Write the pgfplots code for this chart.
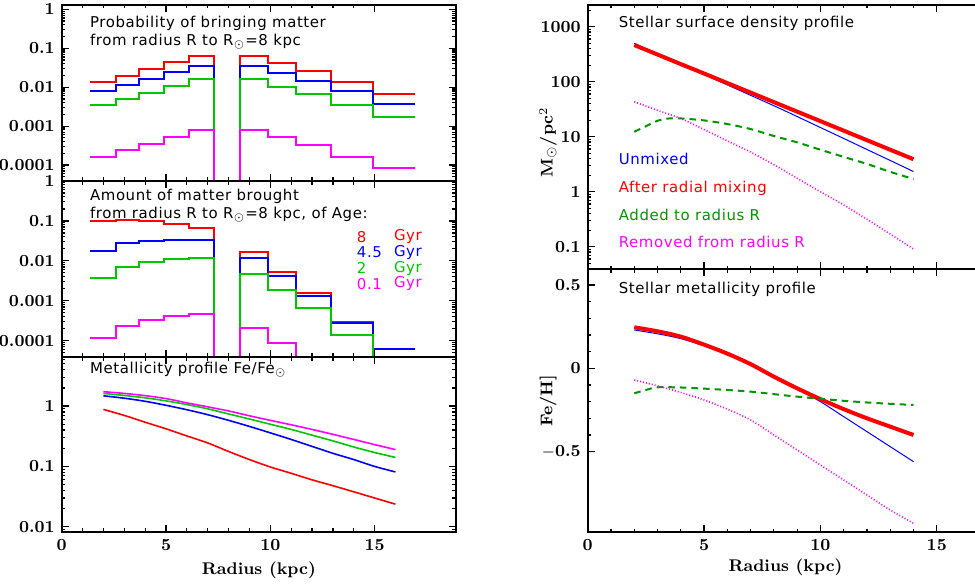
\documentclass[border=0pt]{standalone}
\usepackage{fontspec}
\usepackage{pgfplots}
\pgfplotsset{compat=1.18}
\newfontfamily\hfont[LetterSpace=4]{DejaVu Sans}
\definecolor{lred}{RGB}{255,0,0}
\definecolor{lblue}{RGB}{0,0,255}
\definecolor{lgreen}{RGB}{0,200,0}
\definecolor{dgreen}{RGB}{0,150,0}
\definecolor{mag}{RGB}{255,0,255}

\pgfplotsset{
  panel/.style={
    scale only axis, clip=true,
    axis line style={line width=1bp},
    tick align=inside,
    major tick length=3.5bp, minor tick length=1.8bp,
    every tick/.style={black, line width=0.6bp},
    tick label style={font=\fontsize{8.5}{10}\selectfont\bfseries},
    label style={font=\fontsize{8.5}{10}\selectfont\bfseries},
    xmin=0, xtick={0,5,10,15}, minor x tick num=4,
  },
  lft/.style={panel, width=197.15bp, xmax=18.9},
  rgt/.style={panel, width=197.8bp, xmax=17},
  stepline/.style={line width=1bp, line cap=rect, line join=miter},
  curve/.style={smooth, tension=0.5},
  dots/.style={mag, line width=0.8bp, dash pattern=on 0.5bp off 1bp},
  dashes/.style={dgreen, line width=1bp, dash pattern=on 3.3bp off 2.5bp},
}
\tikzset{txt/.style={anchor=west, font=\hfont\fontsize{7.5}{9}\selectfont}}

\begin{document}
\begin{tikzpicture}

% ---- top left: probability
\begin{axis}[lft, anchor=north west, at={(30.85bp,-2.35bp)},
  height=88.15bp, ymode=log, ymin=3.89e-5, ymax=1.318,
  ytick={1e-4,1e-3,1e-2,1e-1,1}, yticklabels={0.0001,0.001,0.01,0.1,1},
  minor ytick={4e-5,5e-5,6e-5,7e-5,8e-5,9e-5,2e-4,3e-4,4e-4,5e-4,6e-4,7e-4,8e-4,9e-4,
  2e-3,3e-3,4e-3,5e-3,6e-3,7e-3,8e-3,9e-3,0.02,0.03,0.04,0.05,0.06,0.07,0.08,0.09,
  0.2,0.3,0.4,0.5,0.6,0.7,0.8,0.9},
  xticklabels={}]
\addplot[stepline, lred] coordinates {
 (1.387,0.0134)(2.585,0.0134)(2.585,0.0199)(3.718,0.0199)(3.718,0.0294)(4.90,0.0294)
 (4.90,0.0436)(6.10,0.0436)(6.10,0.0648)(7.29,0.0648)(7.29,1e-6)(8.57,1e-6)
 (8.57,0.0648)(9.90,0.0648)(9.90,0.0425)(11.22,0.0425)(11.22,0.0260)(12.93,0.0260)
 (12.93,0.0134)(14.92,0.0134)(14.92,0.0068)(16.89,0.0068)};
\addplot[stepline, lblue] coordinates {
 (1.387,0.0078)(2.585,0.0078)(2.585,0.0112)(3.718,0.0112)(3.718,0.0163)(4.90,0.0163)
 (4.90,0.0243)(6.10,0.0243)(6.10,0.0360)(7.29,0.0360)(7.29,1e-6)(8.57,1e-6)
 (8.57,0.0360)(9.90,0.0360)(9.90,0.0235)(11.22,0.0235)(11.22,0.0148)(12.93,0.0148)
 (12.93,0.0078)(14.92,0.0078)(14.92,0.0038)(16.89,0.0038)};
\addplot[stepline, lgreen] coordinates {
 (1.387,0.0034)(2.585,0.0034)(2.585,0.0050)(3.718,0.0050)(3.718,0.0072)(4.90,0.0072)
 (4.90,0.0107)(6.10,0.0107)(6.10,0.0163)(7.29,0.0163)(7.29,1e-6)(8.57,1e-6)
 (8.57,0.0163)(9.90,0.0163)(9.90,0.0103)(11.22,0.0103)(11.22,0.0065)(12.93,0.0065)
 (12.93,0.0034)(14.92,0.0034)(14.92,0.0017)(16.89,0.0017)};
\addplot[stepline, mag] coordinates {
 (1.387,1.65e-4)(2.585,1.65e-4)(2.585,2.45e-4)(3.718,2.45e-4)(3.718,3.55e-4)(4.90,3.55e-4)
 (4.90,5.4e-4)(6.10,5.4e-4)(6.10,8.1e-4)(7.29,8.1e-4)(7.29,1e-6)(8.57,1e-6)
 (8.57,8.1e-4)(9.90,8.1e-4)(9.90,5.3e-4)(11.22,5.3e-4)(11.22,3.25e-4)(12.93,3.25e-4)
 (12.93,1.65e-4)(14.92,1.65e-4)(14.92,8.4e-5)(16.89,8.4e-5)};
\node[txt] at (axis description cs:0.054,0.896) {Probability of bringing matter};
\node[txt] at (axis description cs:0.054,0.788) {from radius R to R$_\odot$=8 kpc};
\end{axis}

% ---- middle left: amount of matter by age
\begin{axis}[lft, anchor=north west, at={(30.85bp,-90.5bp)},
  height=88bp, ymode=log, ymin=3.89e-5, ymax=1,
  ytick={1e-4,1e-3,1e-2,1e-1,1}, yticklabels={0.0001,0.001,0.01,0.1,1},
  minor ytick={4e-5,5e-5,6e-5,7e-5,8e-5,9e-5,2e-4,3e-4,4e-4,5e-4,6e-4,7e-4,8e-4,9e-4,
  2e-3,3e-3,4e-3,5e-3,6e-3,7e-3,8e-3,9e-3,0.02,0.03,0.04,0.05,0.06,0.07,0.08,0.09,
  0.2,0.3,0.4,0.5,0.6,0.7,0.8,0.9},
  xticklabels={}]
\addplot[stepline, lred] coordinates {
 (1.387,0.100)(2.585,0.100)(2.585,0.107)(3.718,0.107)(3.718,0.098)(4.90,0.098)
 (4.90,0.085)(6.10,0.085)(6.10,0.068)(7.29,0.068)(7.29,1e-6)(8.57,1e-6)
 (8.57,0.0168)(9.90,0.0168)(9.90,0.0053)(11.22,0.0053)(11.22,0.00158)(12.93,0.00158)
 (12.93,3.0e-4)(14.92,3.0e-4)(14.92,6.0e-5)(16.89,6.0e-5)};
\addplot[stepline, lblue] coordinates {
 (1.387,0.0174)(2.585,0.0174)(2.585,0.0275)(3.718,0.0275)(3.718,0.0316)(4.90,0.0316)
 (4.90,0.0330)(6.10,0.0330)(6.10,0.0324)(7.29,0.0324)(7.29,1e-6)(8.57,1e-6)
 (8.57,0.0115)(9.90,0.0115)(9.90,0.0041)(11.22,0.0041)(11.22,0.00133)(12.93,0.00133)
 (12.93,2.7e-4)(14.92,2.7e-4)(14.92,6.0e-5)(16.89,6.0e-5)};
\addplot[stepline, lgreen] coordinates {
 (1.387,0.0038)(2.585,0.0038)(2.585,0.0071)(3.718,0.0071)(3.718,0.0094)(4.90,0.0094)
 (4.90,0.0108)(6.10,0.0108)(6.10,0.0119)(7.29,0.0119)(7.29,1e-6)(8.57,1e-6)
 (8.57,0.0047)(9.90,0.0047)(9.90,0.00185)(11.22,0.00185)(11.22,6.7e-4)(12.93,6.7e-4)
 (12.93,1.4e-4)(14.92,1.4e-4)(14.92,1e-6)};
\addplot[stepline, mag] coordinates {
 (1.387,1.19e-4)(2.585,1.19e-4)(2.585,2.3e-4)(3.718,2.3e-4)(3.718,3.3e-4)(4.90,3.3e-4)
 (4.90,4.1e-4)(6.10,4.1e-4)(6.10,4.7e-4)(7.29,4.7e-4)(7.29,1e-6)(8.57,1e-6)
 (8.57,2.1e-4)(9.90,2.1e-4)(9.90,8.5e-5)(11.22,8.5e-5)(11.22,1e-6)};
\node[txt] at (axis description cs:0.054,0.911) {Amount of matter brought};
\node[txt] at (axis description cs:0.054,0.811) {from radius R to R$_\odot$=8 kpc, of Age:};
\node[txt, lred]   at (axis description cs:0.731,0.684) {8};
\node[txt, lred]   at (axis description cs:0.825,0.684) {Gyr};
\node[txt, lblue]  at (axis description cs:0.731,0.595) {4.5};
\node[txt, lblue]  at (axis description cs:0.825,0.595) {Gyr};
\node[txt, lgreen] at (axis description cs:0.731,0.504) {2};
\node[txt, lgreen] at (axis description cs:0.825,0.504) {Gyr};
\node[txt, mag]    at (axis description cs:0.731,0.415) {0.1};
\node[txt, mag]    at (axis description cs:0.825,0.415) {Gyr};
\end{axis}

% ---- bottom left: metallicity
\begin{axis}[lft, anchor=north west, at={(30.85bp,-178.5bp)},
  height=87.5bp, ymode=log, ymin=0.0082, ymax=6.5,
  ytick={0.01,0.1,1}, yticklabels={0.01,0.1,1},
  minor ytick={0.009,0.02,0.03,0.04,0.05,0.06,0.07,0.08,0.09,
    0.2,0.3,0.4,0.5,0.6,0.7,0.8,0.9,2,3,4,5,6},
  xticklabels={0,5,10,15}, xlabel={Radius (kpc)},
  xlabel style={at={(axis description cs:0.5,-0.217)}, anchor=center}]
\addplot[lred, line width=0.8bp, curve] coordinates {
 (2,0.88)(3,0.70)(4,0.54)(5,0.42)(6,0.32)(7,0.245)(8,0.177)(9,0.13)(10,0.098)
 (11,0.077)(12,0.060)(13,0.048)(14,0.038)(15,0.030)(16,0.0237)};
\addplot[lblue, line width=0.8bp, curve] coordinates {
 (2,1.48)(3,1.35)(4,1.20)(5,1.03)(6,0.87)(7,0.72)(8,0.58)(9,0.46)(10,0.36)
 (11,0.28)(12,0.215)(13,0.165)(14,0.13)(15,0.10)(16,0.081)};
\addplot[lgreen, line width=0.8bp, curve] coordinates {
 (2,1.62)(3,1.50)(4,1.37)(5,1.22)(6,1.06)(7,0.90)(8,0.74)(9,0.61)(10,0.50)
 (11,0.41)(12,0.33)(13,0.265)(14,0.21)(15,0.17)(16,0.141)};
\addplot[mag, line width=0.8bp, curve] coordinates {
 (2,1.73)(3,1.62)(4,1.49)(5,1.33)(6,1.13)(7,0.97)(8,0.83)(9,0.69)(10,0.58)
 (11,0.49)(12,0.41)(13,0.34)(14,0.28)(15,0.23)(16,0.19)};
\node[txt] at (axis description cs:0.054,0.926) {Metallicity profile Fe/Fe$_\odot$};
\end{axis}

% ---- top right: surface density
\begin{axis}[rgt, anchor=north west, at={(293.85bp,-2.35bp)},
  height=132.3bp, ymode=log, ymin=0.0389, ymax=2512,
  ytick={0.1,1,10,100,1000}, yticklabels={0.1,1,10,100,1000},
  minor ytick={0.04,0.05,0.06,0.07,0.08,0.09,0.2,0.3,0.4,0.5,0.6,0.7,0.8,0.9,
    2,3,4,5,6,7,8,9,20,30,40,50,60,70,80,90,200,300,400,500,600,700,800,900,2000},
  xticklabels={}, ylabel={M$_\odot$/pc$^2$},
  ylabel style={at={(axis description cs:-0.1,0.48)}, anchor=center}]
\addplot[lblue, line width=0.5bp, curve] coordinates {
 (2,499)(3,323)(4,209)(5,135)(6,87.5)(7,56.6)(8,36.6)(9,23.3)(10,14.7)
 (11,9.3)(12,5.86)(13,3.7)(14,2.33)};
\addplot[lred, line width=2bp, curve] coordinates {
 (2,464)(3,312)(4,209)(5,141)(6,94.4)(7,63.4)(8,42.6)(9,28.6)(10,19.2)
 (11,12.9)(12,8.65)(13,5.8)(14,3.9)};
\addplot[dashes, curve] coordinates {
 (2,12.3)(2.5,15.5)(3,19.5)(3.5,21.5)(4,21.5)(5,19.8)(6,17)(7,13.8)(8,10.3)
 (9,7.9)(10,5.8)(11,4.3)(12,3.2)(13,2.3)(14,1.7)};
\addplot[dots, curve] coordinates {
 (2,43.3)(3,30.2)(4,21.4)(5,13.5)(6,8.4)(7,5.25)(8,3.1)(9,1.76)(10,1.0)
 (11,0.575)(12,0.316)(13,0.17)(14,0.091)};
\node[txt] at (axis description cs:0.061,0.931) {Stellar surface density profile};
\node[txt, lblue]  at (axis description cs:0.061,0.417) {Unmixed};
\node[txt, lred]   at (axis description cs:0.061,0.307) {After radial mixing};
\node[txt, dgreen] at (axis description cs:0.061,0.205) {Added to radius R};
\node[txt, mag]    at (axis description cs:0.061,0.103) {Removed from radius R};
\end{axis}

% ---- bottom right: metallicity [Fe/H]
\begin{axis}[rgt, anchor=north west, at={(293.85bp,-134.65bp)},
  height=131.5bp, ymin=-0.984, ymax=0.594,
  ytick={-0.5,0,0.5}, yticklabels={$-$0.5,0,0.5}, minor y tick num=4,
  xticklabels={0,5,10,15}, xlabel={Radius (kpc)},
  xlabel style={at={(axis description cs:0.5,-0.131)}, anchor=center},
  ylabel={Fe/H]},
  ylabel style={at={(axis description cs:-0.1,0.5)}, anchor=center}]
\addplot[lblue, line width=0.5bp, curve] coordinates {
 (2,0.23)(3,0.207)(4,0.178)(5,0.135)(6,0.085)(7,0.028)(8,-0.045)(9,-0.125)
 (10,-0.20)(11,-0.29)(12,-0.38)(13,-0.47)(14,-0.56)};
\addplot[lred, line width=2bp, curve] coordinates {
 (2,0.246)(3,0.222)(4,0.19)(5,0.142)(6,0.088)(7,0.025)(8,-0.05)(9,-0.12)
 (10,-0.185)(11,-0.245)(12,-0.30)(13,-0.35)(14,-0.40)};
\addplot[dashes, curve] coordinates {
 (2,-0.15)(2.5,-0.13)(3,-0.114)(4,-0.115)(5,-0.122)(6,-0.13)(7,-0.14)(8,-0.155)
 (9,-0.17)(10,-0.183)(11,-0.195)(12,-0.205)(13,-0.213)(14,-0.22)};
\addplot[dots, curve] coordinates {
 (2,-0.07)(3,-0.105)(4,-0.145)(5,-0.19)(6,-0.245)(7,-0.31)(8,-0.40)(9,-0.49)
 (10,-0.58)(11,-0.67)(12,-0.76)(13,-0.85)(14,-0.93)};
\node[txt] at (axis description cs:0.061,0.925) {Stellar metallicity profile};
\end{axis}

\pgfresetboundingbox
\path (0,0) rectangle (487.5bp,-292.5bp);
\end{tikzpicture}
\end{document}
